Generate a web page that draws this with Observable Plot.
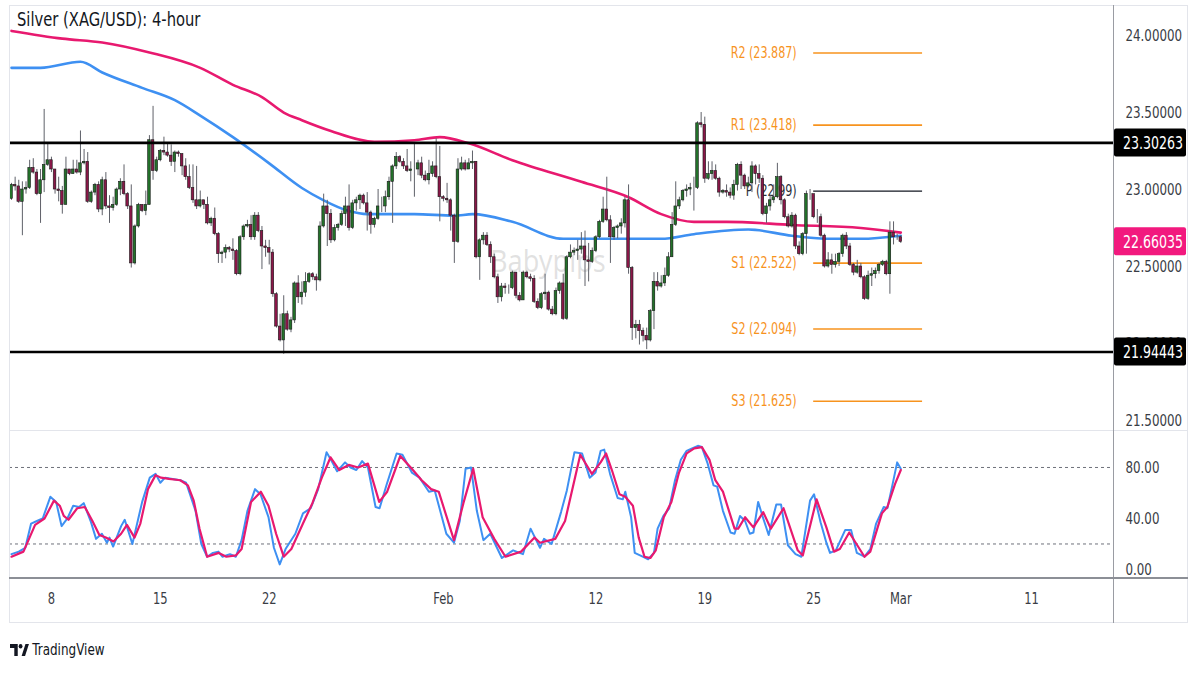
<!DOCTYPE html>
<html><head><meta charset="utf-8">
<script src="https://cdn.jsdelivr.net/npm/d3@7"></script>
<script src="https://cdn.jsdelivr.net/npm/@observablehq/plot@0.6"></script>
<style>
html,body{margin:0;padding:0;background:#fff;}
body{width:1200px;height:675px;overflow:hidden;position:relative;font-family:"DejaVu Sans Condensed","Liberation Sans Narrow","DejaVu Sans",sans-serif;}
.abs{position:absolute;}
#frame{left:9px;top:5px;width:1179px;height:618px;border:1px solid #e3e5eb;box-sizing:border-box;}
#vline{left:1113px;top:5px;width:1px;height:618px;background:#9a9ca3;}
#sep{left:9px;top:430px;width:1179px;height:1px;background:#e3e5eb;}
#xline{left:9px;top:577px;width:1179px;height:1.5px;background:#8c8f96;}
#title{left:17px;top:8px;font-size:19.5px;color:#131722;transform:scaleX(0.84);transform-origin:left top;white-space:nowrap;}
#wm{left:490px;top:240px;font-family:"Noto Sans",sans-serif;font-size:30px;color:rgba(150,150,150,0.28);transform:scaleX(0.9);transform-origin:left top;}
#tv{left:10px;top:641px;display:flex;align-items:center;gap:4px;font-size:15.5px;color:#131722;transform:scaleX(0.86);transform-origin:left top;}
svg{overflow:visible;}
</style></head>
<body>
<div id="wm" class="abs">Babypips</div>
<div id="main" class="abs" style="left:9px;top:5px;"></div>
<div id="stoch" class="abs" style="left:9px;top:430px;"></div>
<div id="frame" class="abs"></div>
<div id="sep" class="abs"></div>
<div id="vline" class="abs"></div>
<div id="xline" class="abs"></div>
<div id="title" class="abs">Silver (XAG/USD): 4-hour</div>
<div id="tv" class="abs"><svg width="22" height="14" viewBox="0 0 22 14"><path d="M0 1h9v12h-4v-8h-5z" fill="#131722"/><circle cx="12.3" cy="3.2" r="2.2" fill="#131722"/><path d="M13.5 13l4.5-12h4l-4.5 12z" fill="#131722"/></svg><span>TradingView</span></div>
<script>
// ---------- data ----------
const firstOpen = 22.94;
const close = [
23.03,23.02,22.92,23.00,23.01,23.14,23.11,22.97,23.06,23.16,
23.19,23.13,23.00,22.99,22.90,23.13,23.10,23.13,23.11,23.17,
23.18,22.92,22.98,23.03,22.87,23.06,22.89,22.88,22.90,23.00,
23.05,22.97,22.89,22.52,22.76,22.90,22.86,22.90,23.32,23.12,
23.19,23.25,23.24,23.22,23.18,23.24,23.23,23.15,23.08,23.01,
22.93,22.89,22.93,22.90,22.78,22.81,22.71,22.58,22.59,22.62,
22.61,22.60,22.45,22.69,22.76,22.77,22.69,22.83,22.73,22.63,
22.62,22.59,22.32,22.11,22.02,22.19,22.09,22.15,22.39,22.30,
22.33,22.40,22.45,22.43,22.41,22.76,22.89,22.84,22.67,22.75,
22.77,22.84,22.89,22.75,22.91,22.93,22.96,22.91,22.85,22.77,
22.81,22.89,22.89,22.95,23.05,23.15,23.21,23.18,23.15,23.12,
23.13,23.13,23.17,23.09,23.06,23.10,23.15,23.08,22.95,22.94,
22.93,22.83,22.66,23.13,23.17,23.13,23.17,23.18,22.56,22.67,
22.70,22.64,22.56,22.43,22.30,22.37,22.36,22.36,22.46,22.31,
22.28,22.46,22.43,22.42,22.27,22.23,22.32,22.33,22.22,22.19,
22.34,22.39,22.16,22.56,22.59,22.60,22.61,22.63,22.54,22.53,
22.60,22.69,22.79,22.87,22.80,22.69,22.75,22.76,22.78,22.93,
22.49,22.10,22.12,22.08,22.05,22.02,22.21,22.40,22.37,22.39,
22.44,22.56,22.77,22.89,22.93,22.99,23.00,23.01,23.01,23.43,
23.42,23.07,23.10,23.12,23.07,22.98,22.99,22.98,22.96,23.03,
23.16,23.09,23.02,23.04,23.15,23.10,23.07,22.84,22.89,22.93,
22.95,23.08,22.93,22.82,22.76,22.83,22.63,22.58,22.71,22.97,
22.97,22.82,22.82,22.70,22.50,22.54,22.51,22.53,22.58,22.70,
22.63,22.51,22.46,22.50,22.43,22.29,22.44,22.45,22.47,22.51,
22.53,22.45,22.72,22.69,22.69,22.66];
const high = [
23.04,23.08,23.06,23.05,23.05,23.19,23.20,23.13,23.13,23.52,
23.30,23.21,23.13,23.08,23.02,23.21,23.13,23.19,23.19,23.38,
23.26,23.24,22.99,23.04,23.05,23.08,23.11,22.96,22.95,23.01,
23.07,23.16,22.98,23.03,22.77,22.91,22.90,22.99,23.35,23.54,
23.21,23.26,23.34,23.30,23.29,23.25,23.25,23.23,23.20,23.16,
23.16,23.15,22.99,22.93,22.95,22.82,22.88,22.72,22.60,22.64,
22.63,22.68,22.61,22.70,22.77,22.80,22.83,22.85,22.85,22.76,
22.67,22.67,22.61,22.33,22.19,22.31,22.21,22.17,22.40,22.44,
22.40,22.46,22.46,22.46,22.45,22.79,22.97,22.93,22.87,22.77,
22.78,22.86,22.95,23.03,22.93,22.95,22.97,22.97,22.98,22.86,
22.82,23.00,22.95,22.99,23.08,23.16,23.24,23.22,23.20,23.26,
23.18,23.30,23.19,23.21,23.12,23.19,23.18,23.33,23.28,22.96,
23.04,22.94,22.84,23.20,23.21,23.19,23.20,23.25,23.18,22.68,
22.72,22.72,22.66,22.58,22.45,22.39,22.39,22.38,22.47,22.46,
22.33,22.47,22.47,22.45,22.44,22.29,22.33,22.45,22.34,22.24,
22.36,22.40,22.45,22.57,22.64,22.62,22.67,22.72,22.73,22.65,
22.62,22.70,22.80,22.95,23.08,22.83,22.76,22.77,22.81,22.95,
23.03,22.50,22.15,22.15,22.10,22.10,22.22,22.46,22.46,22.44,
22.49,22.59,22.85,23.05,22.95,23.00,23.03,23.04,23.08,23.44,
23.50,23.47,23.18,23.18,23.16,23.08,23.00,23.03,23.01,23.06,
23.17,23.18,23.10,23.08,23.18,23.16,23.16,23.09,22.91,22.96,
23.03,23.17,23.09,22.94,22.84,22.85,22.84,22.66,22.72,22.99,
23.00,22.96,22.87,22.84,22.71,22.59,22.58,22.58,22.59,22.71,
22.72,22.65,22.52,22.54,22.52,22.44,22.47,22.49,22.49,22.52,
22.54,22.54,22.79,22.79,22.71,22.70];
const low = [
22.93,22.99,22.91,22.70,22.97,23.00,23.10,22.96,22.78,22.98,
23.15,23.11,22.97,22.92,22.84,22.90,23.09,23.10,23.10,23.09,
23.16,22.91,22.91,22.96,22.85,22.83,22.87,22.78,22.86,22.89,
22.96,22.96,22.87,22.49,22.51,22.75,22.85,22.83,22.90,23.06,
23.11,23.18,23.22,23.21,23.15,23.11,23.21,23.09,23.06,23.00,
22.91,22.87,22.88,22.87,22.77,22.76,22.70,22.52,22.52,22.55,
22.59,22.54,22.44,22.44,22.67,22.75,22.67,22.67,22.72,22.48,
22.56,22.51,22.30,22.10,22.01,21.93,22.08,22.07,22.13,22.26,
22.25,22.30,22.39,22.41,22.34,22.40,22.75,22.63,22.65,22.66,
22.73,22.76,22.76,22.73,22.74,22.86,22.87,22.90,22.73,22.71,
22.75,22.80,22.85,22.85,22.93,22.78,23.13,23.17,23.13,23.11,
23.05,22.95,23.09,23.07,23.05,23.03,23.08,23.07,22.79,22.92,
22.91,22.73,22.52,22.65,23.12,23.12,23.13,23.13,22.55,22.41,
22.64,22.63,22.52,22.42,22.26,22.27,22.32,22.32,22.35,22.29,
22.27,22.28,22.42,22.40,22.26,22.22,22.22,22.28,22.21,22.18,
22.18,22.32,22.15,22.15,22.55,22.57,22.54,22.58,22.37,22.40,
22.52,22.59,22.68,22.78,22.79,22.52,22.67,22.68,22.71,22.75,
22.45,22.02,22.03,21.99,22.01,21.96,22.01,22.09,22.34,22.36,
22.37,22.43,22.56,22.76,22.87,22.92,22.95,22.96,22.86,23.00,
23.40,23.04,23.06,23.06,23.06,22.95,22.97,22.95,22.94,22.93,
22.99,23.00,23.00,23.01,22.98,23.03,23.04,22.83,22.78,22.86,
22.91,22.94,22.90,22.81,22.75,22.75,22.61,22.57,22.57,22.58,
22.93,22.81,22.78,22.69,22.49,22.49,22.45,22.49,22.50,22.56,
22.61,22.50,22.44,22.45,22.42,22.28,22.28,22.37,22.42,22.45,
22.50,22.44,22.32,22.64,22.67,22.65];

// moving averages (bar index, value)
const ma200Idx = [0,14,25,38,52,61,69,75,80,88,100,111,118,126,138,157,170,179,188,197,215,234,245];
const ma200Val = [24.03,23.98,23.955,23.89,23.79,23.68,23.60,23.50,23.45,23.38,23.31,23.32,23.34,23.30,23.19,23.05,22.95,22.84,22.79,22.79,22.77,22.75,22.72];
const ma100Idx = [0,8,19,25,36,45,52,61,71,80,86,93,98,111,122,127,138,152,165,179,188,203,215,226,234,245];
const ma100Val = [23.79,23.79,23.83,23.76,23.66,23.58,23.48,23.34,23.17,23.01,22.93,22.86,22.84,22.84,22.83,22.84,22.79,22.68,22.68,22.68,22.71,22.74,22.70,22.68,22.68,22.70];

// stochastic %K and %D (bar index, value)
const stochKIdx = [0,2,3.8,5.4,7,8.6,10.7,12.3,13.8,15.4,17,18.6,19.9,21.8,23.3,24.9,26.3,27,28,30.2,31.2,33.3,36,38.1,39.7,41,42.3,46.5,48.1,50.7,52.3,53.9,55.5,57,58.1,60.2,61.8,63.4,65,67.1,68.6,70.8,72.3,73.9,75.5,78.2,80.3,82.4,84.5,86.8,88.2,89.7,91.9,93.4,95,96.6,98.2,100.3,101.4,103.4,106.1,107.7,110.3,112.4,115,116.6,119.8,121.9,123.5,125.1,126.6,128.2,130,131.9,135.1,138.2,140.9,143,145.6,146.7,148.8,151.4,153,155.1,157.2,159.3,160.9,162.3,163.3,164.9,167,168.4,169.1,170.7,171.7,173.9,175.4,177,178,179.6,181.2,182.8,184.4,186,187.5,189.1,190.2,191.8,193.4,194.4,196,198.1,199.2,200.7,202.1,203.4,204.4,205.7,207,208.6,210.7,212,213.9,216,217.6,220,221.1,222.9,224.5,225.5,227.1,229.7,231.3,232.9,235,236.6,238.2,240.3,241.3,242.6,244,245];
const stochK = [12,14,17,36,38,40,57,53,34,40,50,49,52,38,24,28,21,25,18,34,39,20,53,72,75,68,72,70,68,46,20,10,13,14,10,12,10,23,46,63,59,41,17,4,16,28,44,48,63,92,85,77,84,80,78,85,80,49,48,67,91,90,76,72,61,62,28,21,38,79,80,46,23,28,9,15,12,32,17,24,20,45,62,92,91,72,76,93,94,75,56,55,61,41,13,10,8,13,32,42,48,70,86,93,95,97,96,83,66,65,46,29,28,42,38,28,29,53,41,27,51,51,19,12,10,54,59,37,21,13,15,31,31,13,10,16,36,49,48,65,84,79];
const stochDIdx = [0,3.3,6.5,9.1,11.7,13.3,14.4,15.7,18.1,20.2,22.3,24.2,26,28.1,30.2,31.8,33.9,35.5,37.6,39.7,41.2,43.4,46.5,48.6,50.2,51.8,53.9,57.1,59.2,61.8,63.4,66,68.7,70.8,72.9,75,77.1,80.3,82.9,85.5,87.9,90.3,92.9,95.5,98.2,101.3,103.5,107.1,110.3,113,115.6,117.7,121.9,124.5,127.2,129.8,133,136.1,140.4,144.1,145.6,149.8,152.5,156.7,159.9,162.3,163.8,165.4,167.5,169.1,171.2,172.8,174.4,176,177.5,179.7,181.8,183.9,186,188.1,190.2,192.3,193.9,196,199.2,200.2,202.1,204.4,207.1,209.2,212.7,216.6,218,221.8,224.5,226.6,228.2,230.8,235,236.6,239.8,241.3,243.4,245];
const stochD = [10,14,35,40,54,50,42,39,48,49,38,27,25,22,28,35,25,36,63,74,72,71,70,66,54,32,10,13,10,11,16,53,61,50,28,10,16,36,52,72,88,78,82,80,83,53,61,89,79,70,63,61,23,52,79,41,24,10,14,25,21,24,38,90,75,84,91,78,59,57,50,25,10,9,15,41,53,76,91,95,96,86,70,61,32,32,41,33,45,32,48,15,11,55,33,14,16,29,10,14,44,49,67,78];

// axes, levels, labels
const priceTicks = [21.5, 22, 22.5, 23, 23.5, 24];
const stochTicks = [0, 40, 80];
const stochLevels = [80, 20];
const dateTickIdx = [11, 41, 71, 119, 161, 191, 221, 245, 281];
const dateTickLabels = ["8","15","22","Feb","12","19","25","Mar","11"];
const srLevels = [23.30263, 21.94443];
const lastPrice = 22.66035;
const pivotNames = ["R2","R1","P","S1","S2","S3"];
const pivotValues = [23.887, 23.418, 22.99, 22.522, 22.094, 21.625];
const pivotStartIdx = 221, pivotEndIdx = 251;

// ---------- styles ----------
const FONT = '"DejaVu Sans Condensed","Liberation Sans Narrow","DejaVu Sans",sans-serif';
const GREEN = "#23722a", RED = "#8a1748", WICK = "#5f6169";
const PINK = "#e8196f", BLUE = "#3e90f2", ORANGE = "#f7931e";
const X_DOMAIN = [-0.55, 303.6];
const W = 1179, MR = 75;
const SQUEEZE = 0.8;

// narrow every svg text horizontally about its own anchor point
function squeeze(svg, k) {
  const NS = "http://www.w3.org/2000/svg";
  svg.querySelectorAll("text").forEach(t => {
    const g = document.createElementNS(NS, "g");
    let tr = t.getAttribute("transform") || "";
    const x = t.getAttribute("x");
    if (x !== null) { tr = `${tr} translate(${x},0)`; t.removeAttribute("x"); }
    if (tr) g.setAttribute("transform", tr);
    t.removeAttribute("transform");
    t.parentNode.insertBefore(g, t);
    g.appendChild(t);
    t.setAttribute("transform", `scale(${k},1)`);
  });
}

const candles = close.map((c, i) => ({i, o: i ? close[i - 1] : firstOpen, c, h: high[i], l: low[i]}));
const up = candles.filter(d => d.c >= d.o), down = candles.filter(d => d.c < d.o);
const pivots = pivotNames.map((n, k) => ({name: n, v: pivotValues[k], s: pivotStartIdx, e: pivotEndIdx,
  label: `${n} (${n === "P" ? pivotValues[k].toFixed(2) : pivotValues[k].toFixed(3)})`}));
const ma200 = ma200Idx.map((i, k) => ({i, v: ma200Val[k]}));
const ma100 = ma100Idx.map((i, k) => ({i, v: ma100Val[k]}));
const kLine = stochKIdx.map((i, k) => ({i, v: stochK[k]}));
const dLine = stochDIdx.map((i, k) => ({i, v: stochD[k]}));

const main = Plot.plot({
  width: W, height: 425, marginLeft: 0, marginRight: MR, marginTop: 0, marginBottom: 0,
  x: {domain: X_DOMAIN, axis: null},
  y: {domain: [21.435, 24.195], axis: null},
  style: {fontFamily: FONT, background: "transparent", color: "#333", overflow: "visible"},
  marks: [
    Plot.axisY({anchor: "right", label: null, ticks: priceTicks, tickFormat: d => d.toFixed(5), tickSize: 0, tickPadding: 12, fontSize: 16.5, fill: "#3a3d45"}),
    Plot.text(pivots.filter(d => d.name !== "P"), {x: "s", y: "v", text: "label", textAnchor: "end", dx: -17, fill: ORANGE, fontSize: 15.5}),
    Plot.text(pivots.filter(d => d.name === "P"), {x: "s", y: "v", text: "label", textAnchor: "end", dx: -17, fill: "#2a2e39", fontSize: 15.5}),
    Plot.ruleY(pivots.filter(d => d.name !== "P"), {y: "v", x1: "s", x2: "e", stroke: ORANGE, strokeWidth: 1.6}),
    Plot.ruleY(pivots.filter(d => d.name === "P"), {y: "v", x1: "s", x2: "e", stroke: "#131722", strokeWidth: 1.2}),
    Plot.line(ma200, {x: "i", y: "v", stroke: PINK, strokeWidth: 2.6, curve: "monotone-x"}),
    Plot.line(ma100, {x: "i", y: "v", stroke: BLUE, strokeWidth: 2.6, curve: "monotone-x"}),
    Plot.ruleX(candles, {x: "i", y1: "l", y2: "h", stroke: WICK, strokeWidth: 1}),
    Plot.rect(up, {x1: d => d.i - 0.36, x2: d => d.i + 0.36, y1: "o", y2: "c", fill: GREEN, stroke: "#1a1a1a", strokeWidth: 0.6}),
    Plot.rect(down, {x1: d => d.i - 0.36, x2: d => d.i + 0.36, y1: "o", y2: "c", fill: RED, stroke: "#1a1a1a", strokeWidth: 0.6}),
    Plot.ruleY(srLevels, {stroke: "#000", strokeWidth: 2.6})
  ]
});
document.getElementById("main").appendChild(main);

// price tags in the right axis, placed with the plot's own y scale
const ys = main.scale("y");
const tags = [...srLevels.map(v => ({v, bg: "#000"})), {v: lastPrice, bg: "#f2197e"}];
const g = d3.select(main).append("g");
tags.forEach(t => {
  const yy = ys.apply(t.v);
  g.append("rect").attr("x", W - MR + 1).attr("y", yy - 14).attr("width", 72).attr("height", 28).attr("rx", 2).attr("fill", t.bg);
  g.append("text").attr("x", W - MR + 10).attr("y", yy).attr("dy", "0.36em").attr("fill", "#fff")
    .attr("text-anchor", "start").attr("font-size", 17.5).attr("font-family", FONT).text(t.v.toFixed(5));
});
squeeze(main, SQUEEZE);

const labelByIdx = new Map(dateTickIdx.map((d, k) => [d, dateTickLabels[k]]));
const stoch = Plot.plot({
  width: W, height: 193, marginLeft: 0, marginRight: MR, marginTop: 0, marginBottom: 46,
  x: {domain: X_DOMAIN, axis: null},
  y: {domain: [-6.3, 109], axis: null},
  style: {fontFamily: FONT, background: "transparent", color: "#333", overflow: "visible"},
  marks: [
    Plot.ruleY(stochLevels, {stroke: "#6f727b", strokeDasharray: "3,3", strokeWidth: 1}),
    Plot.line(kLine, {x: "i", y: "v", stroke: BLUE, strokeWidth: 2}),
    Plot.line(dLine, {x: "i", y: "v", stroke: PINK, strokeWidth: 2.2}),
    Plot.axisY({anchor: "right", label: null, ticks: stochTicks, tickFormat: d => d.toFixed(2), tickSize: 0, tickPadding: 12, fontSize: 16.5, fill: "#3a3d45"}),
    Plot.axisX({label: null, ticks: dateTickIdx, tickFormat: d => labelByIdx.get(d), tickSize: 0, tickPadding: 15, fontSize: 16, fill: "#3a3d45"})
  ]
});
document.getElementById("stoch").appendChild(stoch);
squeeze(stoch, SQUEEZE);
</script>
</body></html>
